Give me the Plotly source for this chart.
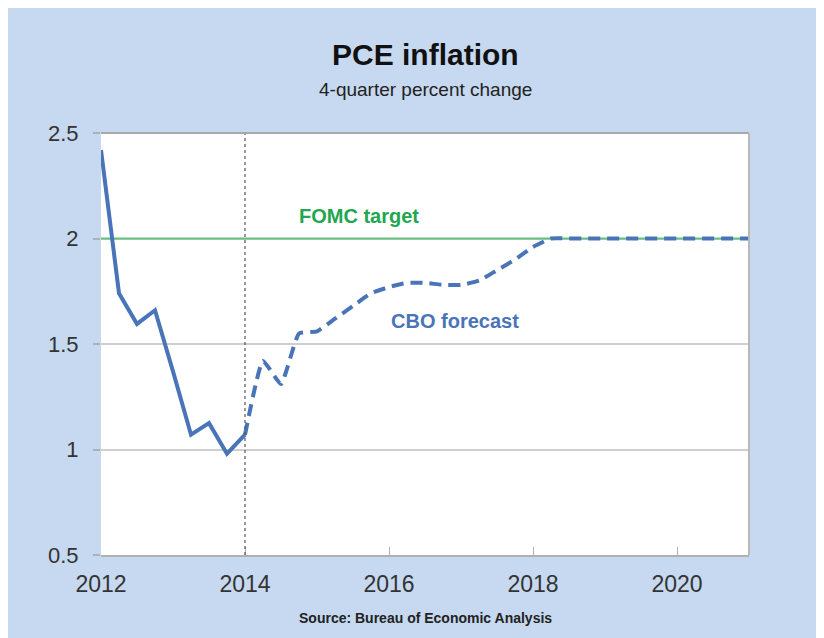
import plotly.graph_objects as go

# Actual PCE inflation (quarterly, 4-quarter % change)
actual_x = [2012.0, 2012.25, 2012.5, 2012.75, 2013.0, 2013.25, 2013.5, 2013.75, 2014.0]
actual_y = [2.42, 1.74, 1.595, 1.66, 1.37, 1.07, 1.125, 0.98, 1.07]

# CBO forecast
forecast_x = [2014.0, 2014.25, 2014.5, 2014.75, 2015.0, 2015.25, 2015.5, 2015.75,
              2016.0, 2016.25, 2016.5, 2016.75, 2017.0, 2017.25, 2017.5, 2017.75,
              2018.0, 2018.25, 2018.5, 2018.75, 2019.0, 2019.25, 2019.5, 2019.75,
              2020.0, 2020.25, 2020.5, 2020.75, 2021.0]
forecast_y = [1.07, 1.42, 1.31, 1.55, 1.56, 1.62, 1.68, 1.74,
              1.77, 1.79, 1.79, 1.78, 1.78, 1.80, 1.85, 1.90,
              1.96, 2.00, 2.00, 2.00, 2.00, 2.00, 2.00, 2.00,
              2.00, 2.00, 2.00, 2.00, 2.00]

target_x = [2012.0, 2021.0]
target_y = [2.0, 2.0]

x_ticks = [2012, 2014, 2016, 2018, 2020]
y_ticks = [0.5, 1, 1.5, 2, 2.5]

BLUE = "#4a74b8"
GREEN = "#63c27f"
BG = "#c6d9f0"
FONT = "Arial, Liberation Sans, sans-serif"

fig = go.Figure()
fig.add_trace(go.Scatter(x=target_x, y=target_y, mode="lines",
                         line=dict(color=GREEN, width=2), hoverinfo="skip"))
fig.add_trace(go.Scatter(x=actual_x, y=actual_y, mode="lines",
                         line=dict(color=BLUE, width=4)))
fig.add_trace(go.Scatter(x=forecast_x, y=forecast_y, mode="lines",
                         line=dict(color=BLUE, width=4, dash="12px,7px", shape="spline", smoothing=0.4)))

# vertical dotted line at 2014
fig.add_shape(type="line", xref="x", yref="paper", x0=2014, x1=2014, y0=0, y1=1,
              line=dict(color="#555555", width=1.2, dash="dot"))
# top border and right shadow
fig.add_shape(type="line", xref="paper", yref="paper", x0=0, x1=1, y0=1, y1=1,
              line=dict(color="#a8a8a8", width=2))
fig.add_shape(type="line", xref="paper", yref="paper", x0=1, x1=1, y0=0, y1=1,
              line=dict(color="#b8b8b8", width=2))

fig.add_annotation(text="<b>PCE inflation</b>", xref="paper", yref="paper",
                   x=0.5015, y=1.185, showarrow=False, xanchor="center", yanchor="middle",
                   font=dict(family=FONT, size=30, color="#111111"))
fig.add_annotation(text="4-quarter percent change", xref="paper", yref="paper",
                   x=0.5015, y=1.102, showarrow=False, xanchor="center", yanchor="middle",
                   font=dict(family=FONT, size=19, color="#222222"))
fig.add_annotation(text="<b>FOMC target</b>", x=2015.58, y=2.107, showarrow=False,
                   xanchor="center", yanchor="middle",
                   font=dict(family=FONT, size=20, color="#22a650"))
fig.add_annotation(text="<b>CBO forecast</b>", x=2016.92, y=1.609, showarrow=False,
                   xanchor="center", yanchor="middle",
                   font=dict(family=FONT, size=20, color="#4a74b8"))
fig.add_annotation(text="<b>Source: Bureau of Economic Analysis</b>", xref="paper", yref="paper",
                   x=0.5, y=-0.149, showarrow=False, xanchor="center", yanchor="middle",
                   font=dict(family=FONT, size=14, color="#222222"))

fig.update_xaxes(range=[2012, 2021], tickvals=x_ticks, ticktext=[str(v) for v in x_ticks],
                 showgrid=False, zeroline=False, showline=True, linecolor="#b0b0b0", linewidth=2,
                 ticks="inside", ticklen=8, tickcolor="#b0b0b0", tickwidth=1,
                 ticklabelstandoff=7,
                 tickfont=dict(family=FONT, size=23, color="#333333"))
fig.update_yaxes(range=[0.5, 2.5], tickvals=y_ticks, ticktext=["0.5", "1", "1.5", "2", "2.5"],
                 showgrid=True, gridcolor="#cfcfcf", gridwidth=2, zeroline=False, showline=False,
                 ticks="outside", ticklen=7, tickcolor="#b0b0b0", tickwidth=2,
                 ticklabelstandoff=10,
                 tickfont=dict(family=FONT, size=22, color="#333333"))

fig.update_layout(width=816, height=630, showlegend=False,
                  margin=dict(l=93, r=75, t=125, b=83),
                  paper_bgcolor=BG, plot_bgcolor="white")

fig.write_html("out.html")
